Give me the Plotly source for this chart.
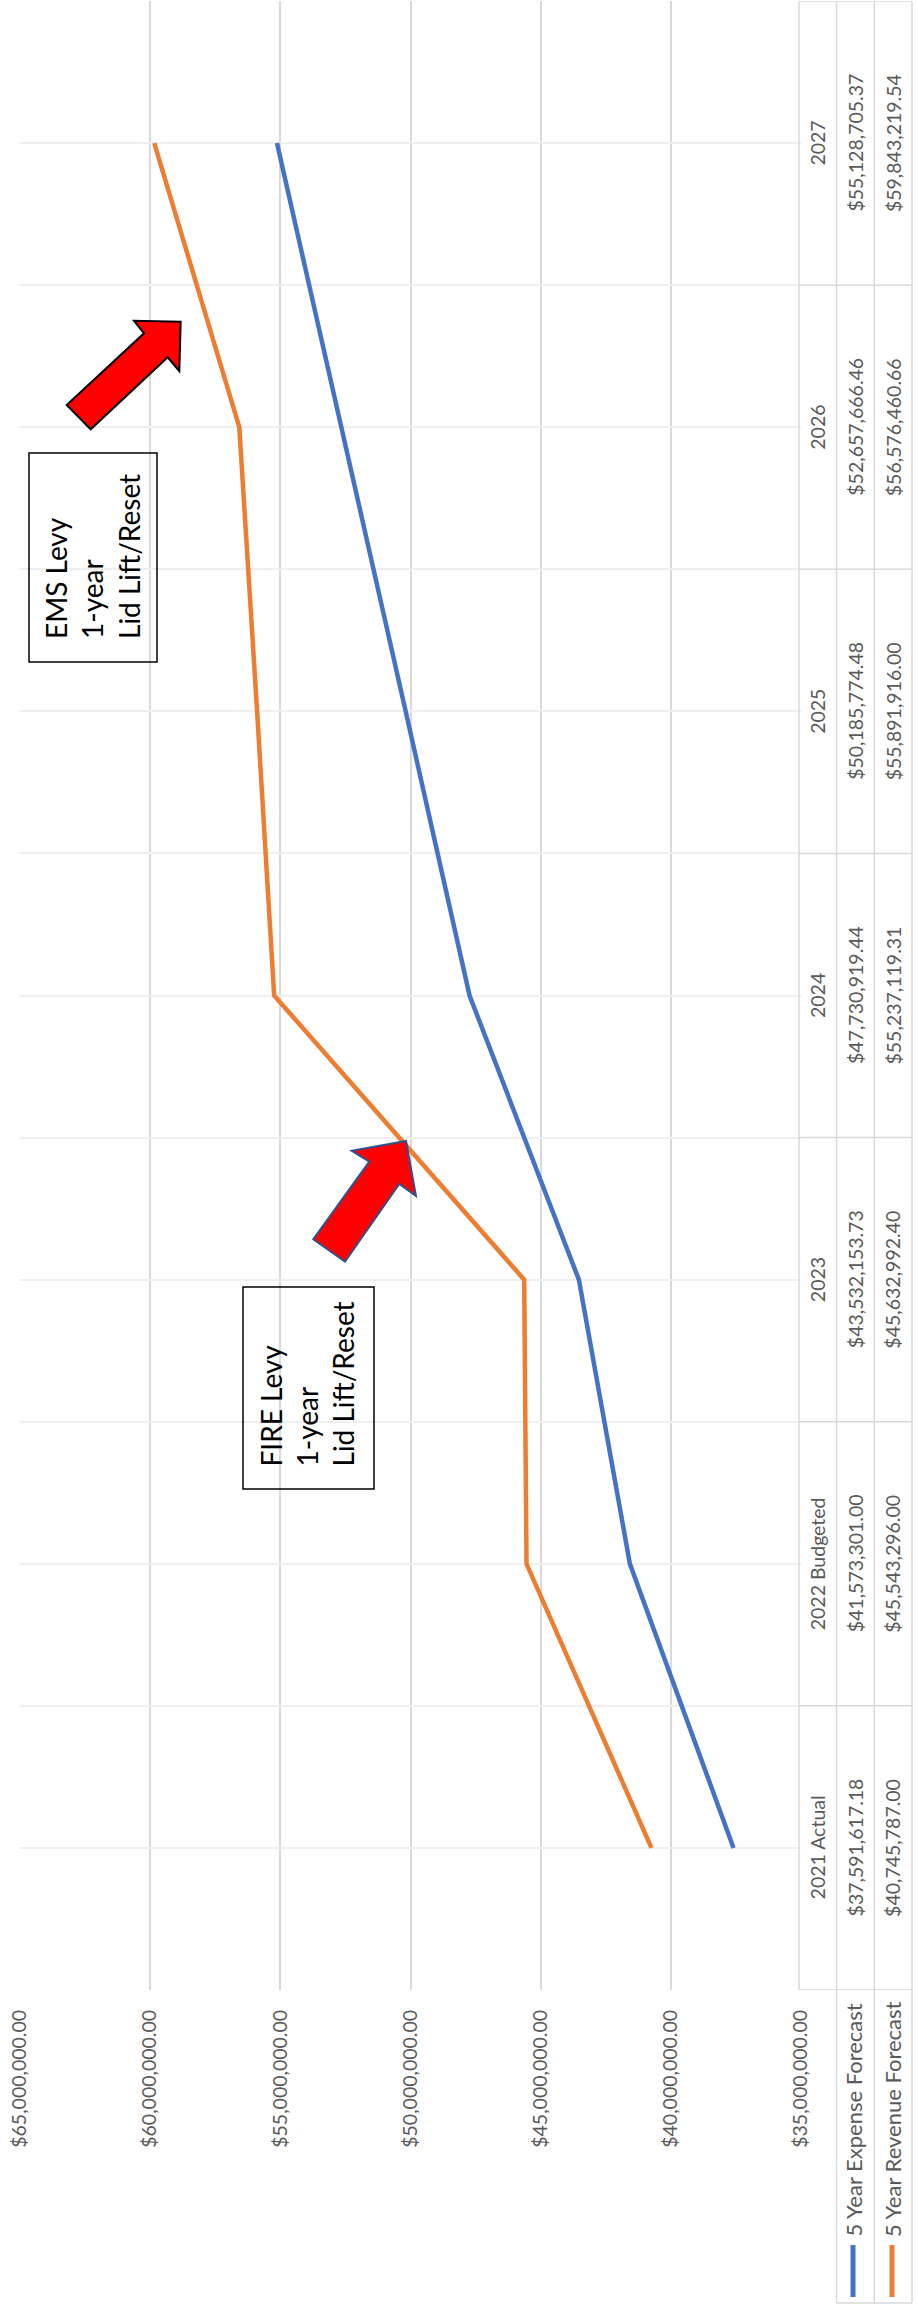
import plotly.graph_objects as go

categories = ["2021 Actual", "2022 Budgeted", "2023", "2024", "2025", "2026", "2027"]
expense = [37591617.18, 41573301.00, 43532153.73, 47730919.44, 50185774.48, 52657666.46, 55128705.37]
revenue = [40745787.00, 45543296.00, 45632992.40, 55237119.31, 55891916.00, 56576460.66, 59843219.54]
series_names = ["5 Year Expense Forecast", "5 Year Revenue Forecast"]
value_ticks = [35e6, 40e6, 45e6, 50e6, 55e6, 60e6, 65e6]

BLUE = "#4472C4"
ORANGE = "#ED7D31"
GRID = "#d9d9d9"
LIGHT = "#efefef"
TXT = "#595959"
FONT = "Lato"

FW, FH = 918, 2311
L, R_PX, T, B_PX = 20, 801, 1, 1990
W, H = R_PX - L, B_PX - T


def px2x(px):
    return (px - L) / W


def py2y(py):
    return (B_PX - py) / H


idx = list(range(len(categories)))

fig = go.Figure()
fig.add_trace(go.Scatter(x=expense, y=idx, mode="lines", name=series_names[0],
                         line=dict(color=BLUE, width=4.5), hoverinfo="skip"))
fig.add_trace(go.Scatter(x=revenue, y=idx, mode="lines", name=series_names[1],
                         line=dict(color=ORANGE, width=4.5), hoverinfo="skip"))

n = len(categories)
half_steps = [i * 0.5 - 0.5 for i in range(2 * n + 1)]

fig.update_layout(
    width=FW, height=FH,
    margin=dict(l=L, r=FW - R_PX, t=T, b=FH - B_PX, pad=0),
    paper_bgcolor="white", plot_bgcolor="white",
    showlegend=False,
    xaxis=dict(range=[65e6, 35e6], tickvals=value_ticks, tickformat="$,.2f",
               tickangle=-90, showgrid=True, gridcolor=GRID, gridwidth=1.5,
               zeroline=False, showline=False, ticks="",
               ticklabelstandoff=15,
               tickfont=dict(family=FONT, size=19.5, color=TXT)),
    yaxis=dict(range=[-0.5, n - 0.5], tickvals=half_steps, showticklabels=False,
               showgrid=True, gridcolor=LIGHT, gridwidth=1.5, zeroline=False,
               showline=False, ticks=""),
)

shapes = []
# table / category-axis frame
col_edges = [799, 836.5, 874.3, 912]
for xe in col_edges:
    shapes.append(dict(type="line", xref="paper", yref="paper",
                       x0=px2x(xe), x1=px2x(xe), y0=0, y1=py2y(1.5),
                       line=dict(color=GRID, width=1.5)))
for b in half_steps[::2]:
    shapes.append(dict(type="line", xref="paper", yref="y",
                       x0=px2x(799), x1=px2x(912), y0=b, y1=b,
                       line=dict(color=GRID, width=1.5)))
# legend cells
for xe in col_edges[1:]:
    shapes.append(dict(type="line", xref="paper", yref="paper",
                       x0=px2x(xe), x1=px2x(xe), y0=0, y1=py2y(2303),
                       line=dict(color=GRID, width=1.5)))
shapes.append(dict(type="line", xref="paper", yref="paper",
                   x0=px2x(836.5), x1=px2x(912), y0=py2y(2303), y1=py2y(2303),
                   line=dict(color=GRID, width=1.5)))
# legend swatches
for xc, col in [(853, BLUE), (892, ORANGE)]:
    shapes.append(dict(type="line", xref="paper", yref="paper",
                       x0=px2x(xc), x1=px2x(xc), y0=py2y(2245), y1=py2y(2297),
                       line=dict(color=col, width=5)))

# text boxes
for (x0, x1, y0, y1) in [(243, 374, 1287, 1489), (29, 157, 453, 662)]:
    shapes.append(dict(type="rect", xref="paper", yref="paper",
                       x0=px2x(x0), x1=px2x(x1), y0=py2y(y1), y1=py2y(y0),
                       line=dict(color="black", width=1.5), fillcolor="rgba(0,0,0,0)",
                       layer="above"))


def arrow_path(pts):
    s = "M " + " L ".join(f"{px2x(x):.5f},{py2y(y):.5f}" for x, y in pts) + " Z"
    return s


fire_arrow = [(406, 1141), (351.7, 1150.7), (369.3, 1161.7), (313.3, 1239.3),
              (345, 1261.7), (399.3, 1184), (416, 1196)]
ems_arrow = [(180.7, 321.7), (134, 320.7), (144, 333.3), (66.7, 405),
             (90.7, 429.3), (167.7, 357.3), (179.3, 371)]
shapes.append(dict(type="path", xref="paper", yref="paper", path=arrow_path(fire_arrow),
                   fillcolor="#FF0000", line=dict(color="#2F528F", width=2), layer="above"))
shapes.append(dict(type="path", xref="paper", yref="paper", path=arrow_path(ems_arrow),
                   fillcolor="#FF0000", line=dict(color="black", width=2), layer="above"))

fig.update_layout(shapes=shapes)

annotations = []


def money(v):
    return f"${v:,.2f}"


for i, cat in enumerate(categories):
    for xc, txt in [(817.5, cat), (855.5, money(expense[i])), (893, money(revenue[i]))]:
        annotations.append(dict(xref="paper", yref="y", x=px2x(xc), y=i, text=txt,
                                textangle=-90, showarrow=False, xanchor="center",
                                yanchor="middle",
                                font=dict(family=FONT, size=19.5, color=TXT)))
for xc, name in [(853, series_names[0]), (892, series_names[1])]:
    annotations.append(dict(xref="paper", yref="paper", x=px2x(xc), y=py2y(2239),
                            text=name, textangle=-90, showarrow=False,
                            xanchor="center", yanchor="bottom",
                            font=dict(family=FONT, size=22, color=TXT)))

for xc, yb, txt in [(307, 1469, "FIRE Levy<br>1-year<br>Lid Lift/Reset"),
                    (92.5, 641, "EMS Levy<br>1-year<br>Lid Lift/Reset")]:
    annotations.append(dict(xref="paper", yref="paper", x=px2x(xc), y=py2y(yb),
                            text=txt, textangle=-90, showarrow=False, align="left",
                            xanchor="center", yanchor="bottom",
                            font=dict(family=FONT, size=28, color="black")))

fig.update_layout(annotations=annotations)
fig.write_html("out.html")
